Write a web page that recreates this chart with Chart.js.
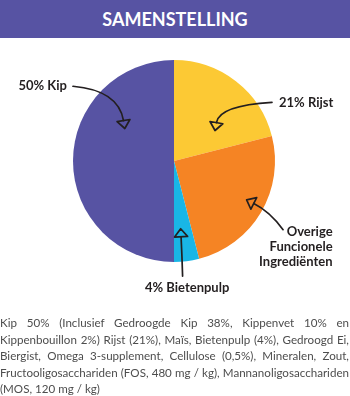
<!DOCTYPE html>
<html><head><meta charset="utf-8">
<script src="https://cdn.jsdelivr.net/npm/chart.js@4.4.0/dist/chart.umd.min.js"></script>
<style>
html,body{margin:0;padding:0;background:#fff;width:350px;height:396px;overflow:hidden;}
#hdr{position:absolute;left:0;top:0;width:350px;height:38px;background:#5753a3;color:#fff;
 font-family:Lato,sans-serif;font-weight:700;font-size:18px;text-align:center;line-height:38px;}
#wrap{position:absolute;left:0;top:0;width:350px;height:396px;}
#txt{position:absolute;left:0;top:315px;width:349px;font-family:Lato,sans-serif;font-size:11.6px;
 line-height:16.6px;color:#4d4d4d;}
#txt div{text-align:justify;text-align-last:justify;white-space:nowrap;}
#txt div.last{text-align-last:left;}
</style></head><body>
<div id="wrap"><canvas id="c"></canvas></div>
<div id="hdr">SAMENSTELLING</div>
<div id="txt"></div>
<script>
const categories = ["21% Rijst", "Overige\nFuncionele\nIngrediënten", "4% Bietenpulp", "50% Kip"];
const values = [21, 25, 4, 50];
const sliceColors = ["#fcc934", "#f58424", "#19b6e6", "#5753a3"];
const titleText = "SAMENSTELLING";
const compositionLines = [
  "Kip 50% (Inclusief Gedroogde Kip 38%, Kippenvet 10% en",
  "Kippenbouillon 2%) Rijst (21%), Maïs, Bietenpulp (4%), Gedroogd Ei,",
  "Biergist, Omega 3-supplement, Cellulose (0,5%), Mineralen, Zout,",
  "Fructooligosacchariden (FOS, 480 mg / kg), Mannanoligosacchariden",
  "(MOS, 120 mg / kg)"
];

document.getElementById('hdr').textContent = titleText;
const txt = document.getElementById('txt');
compositionLines.forEach((l, i) => {
  const d = document.createElement('div');
  d.textContent = l;
  if (i === compositionLines.length - 1) d.className = 'last';
  txt.appendChild(d);
});

// annotation layout, in units of the pie radius relative to its centre
const callouts = [
  { text: { x: 1.04, y: -0.58, align: 'left' }, from: [0.97, -0.58], ctrl: [0.45, -0.55], to: [0.42, -0.38] },
  { text: { x: 1.57, y: 0.85, align: 'right' }, from: [1.08, 0.68], ctrl: [0.95, 0.5], to: [0.79, 0.42] },
  { text: { x: 0.13, y: 1.26, align: 'center' }, from: [0.085, 1.14], ctrl: [0.08, 0.95], to: [0.07, 0.75] },
  { text: { x: -1.06, y: -0.74, align: 'right' }, from: [-1.0, -0.74], ctrl: [-0.55, -0.7], to: [-0.5, -0.4] }
];

const calloutPlugin = {
  id: 'callouts',
  afterDatasetsDraw(chart) {
    const ctx = chart.ctx;
    const arc = chart.getDatasetMeta(0).data[0];
    const cx = arc.x, cy = arc.y, R = arc.outerRadius;
    const P = (p) => [cx + p[0] * R, cy + p[1] * R];
    ctx.save();
    ctx.strokeStyle = '#231f20';
    ctx.fillStyle = '#231f20';
    ctx.lineWidth = 1.7;
    ctx.lineCap = 'round';
    ctx.lineJoin = 'round';
    callouts.forEach((c, i) => {
      const a = P(c.from), b = P(c.ctrl), e = P(c.to);
      ctx.beginPath();
      ctx.moveTo(a[0], a[1]);
      ctx.quadraticCurveTo(b[0], b[1], e[0], e[1]);
      ctx.stroke();
      let dx = e[0] - b[0], dy = e[1] - b[1];
      const L = Math.hypot(dx, dy); dx /= L; dy /= L;
      const nx = -dy, ny = dx, len = 8, hw = 6.5;
      ctx.beginPath();
      ctx.moveTo(e[0] + nx * hw, e[1] + ny * hw);
      ctx.lineTo(e[0] + dx * len, e[1] + dy * len);
      ctx.lineTo(e[0] - nx * hw, e[1] - ny * hw);
      ctx.closePath();
      ctx.stroke();
      const t = P([c.text.x, c.text.y]);
      ctx.font = '700 13px Lato, sans-serif';
      ctx.textAlign = c.text.align;
      ctx.textBaseline = 'middle';
      const lines = categories[i].split('\n');
      const lh = 15;
      lines.forEach((ln, k) => {
        ctx.fillText(ln, t[0], t[1] + (k - (lines.length - 1) / 2) * lh);
      });
    });
    ctx.restore();
  }
};

new Chart(document.getElementById('c'), {
  type: 'pie',
  data: {
    labels: categories,
    datasets: [{ data: values, backgroundColor: sliceColors, borderWidth: 0 }]
  },
  options: {
    responsive: true,
    maintainAspectRatio: false,
    animation: false,
    layout: { padding: { top: 60, left: 73, right: 75, bottom: 134 } },
    plugins: { legend: { display: false }, tooltip: { enabled: false } }
  },
  plugins: [calloutPlugin]
});
</script>
</body></html>
